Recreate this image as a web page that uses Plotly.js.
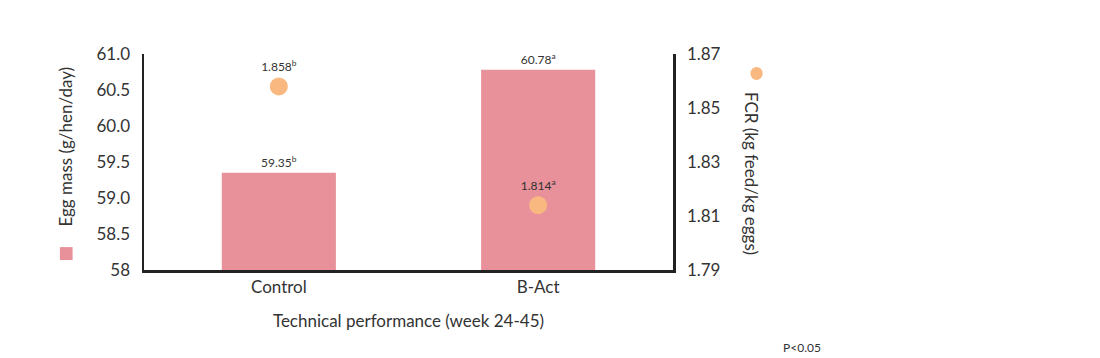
<!DOCTYPE html>
<html>
<head>
<meta charset="utf-8">
<script src="https://cdn.plot.ly/plotly-3.0.1.min.js"></script>
<style>html,body{margin:0;padding:0;background:#fff;}#chart{width:1100px;height:358px;}</style>
</head>
<body>
<div id="chart"></div>
<script>
const categories = ["Control", "B-Act"];
const eggMass = [59.35, 60.78];
const eggMassLabels = ["59.35<sup>b</sup>", "60.78<sup>a</sup>"];
const fcr = [1.858, 1.814];
const fcrLabels = ["1.858<sup>b</sup>", "1.814<sup>a</sup>"];
const leftTickVals = [58, 58.5, 59, 59.5, 60, 60.5, 61];
const leftTickText = ["58", "58.5", "59.0", "59.5", "60.0", "60.5", "61.0"];
const rightTickVals = [1.79, 1.81, 1.83, 1.85, 1.87];
const rightTickText = ["1.79", "1.81", "1.83", "1.85", "1.87"];

const FONT = "Lato, 'Open Sans', sans-serif";
const TXT = "#333333";
const BAR = "#E8919A";
const DOT = "#F9B880";

const traces = [
  {
    type: "bar", x: categories, y: eggMass, width: 0.44,
    marker: {color: BAR},
    text: eggMassLabels, texttemplate: "%{text}", textposition: "outside",
    textfont: {size: 12, color: TXT, family: FONT},
    cliponaxis: false, hoverinfo: "skip", yaxis: "y"
  },
  {
    type: "scatter", mode: "markers+text", x: categories, y: fcr,
    marker: {color: DOT, size: 18},
    text: fcrLabels, textposition: "top center",
    textfont: {size: 12, color: TXT, family: FONT},
    cliponaxis: false, yaxis: "y2", hoverinfo: "skip"
  }
];

const layout = {
  width: 1100, height: 358,
  margin: {l: 144, r: 427, t: 54, b: 88},
  paper_bgcolor: "#fff", plot_bgcolor: "#fff",
  showlegend: false,
  font: {family: FONT, color: TXT},
  xaxis: {
    type: "category", range: [-0.52, 1.52],
    showline: true, linecolor: "#222", linewidth: 2.5,
    showgrid: false, ticks: "", zeroline: false,
    tickfont: {size: 17, color: TXT},
    title: {text: "Technical performance (week 24-45)", font: {size: 17, color: TXT}, standoff: 19}
  },
  yaxis: {
    range: [58, 61], tickvals: leftTickVals, ticktext: leftTickText,
    showline: true, linecolor: "#222", linewidth: 2.5,
    showgrid: false, zeroline: false, ticks: "",
    tickfont: {size: 17, color: TXT}, ticklabelstandoff: 8
  },
  yaxis2: {
    range: [1.79, 1.87], tickvals: rightTickVals, ticktext: rightTickText,
    overlaying: "y", side: "right",
    showline: true, linecolor: "#222", linewidth: 2.5,
    showgrid: false, zeroline: false, ticks: "",
    tickfont: {size: 17, color: TXT}, ticklabelstandoff: 8
  },
  annotations: [
    {xref: "paper", yref: "paper", x: -0.148, y: 0.57, text: "Egg mass (g/hen/day)",
     textangle: -90, showarrow: false, font: {size: 17, color: TXT}, xanchor: "center", yanchor: "middle"},
    {xref: "paper", yref: "paper", x: 1.148, y: 0.448, text: "FCR (kg feed/kg eggs)",
     textangle: 90, showarrow: false, font: {size: 17, color: TXT}, xanchor: "center", yanchor: "middle"},
    {xref: "paper", yref: "paper", x: 1.205, y: -0.36, text: "P<0.05",
     showarrow: false, font: {size: 12, color: TXT}, xanchor: "left", yanchor: "middle"}
  ],
  shapes: [
    {type: "rect", xref: "paper", yref: "paper", x0: -0.159, x1: -0.135, y0: 0.046, y1: 0.106,
     fillcolor: BAR, line: {width: 0}},
    {type: "circle", xref: "paper", yref: "paper", x0: 1.1465, x1: 1.1695, y0: 0.88, y1: 0.94,
     fillcolor: DOT, line: {width: 0}}
  ]
};

Plotly.newPlot("chart", traces, layout, {displayModeBar: false, staticPlot: true});
</script>
</body>
</html>
